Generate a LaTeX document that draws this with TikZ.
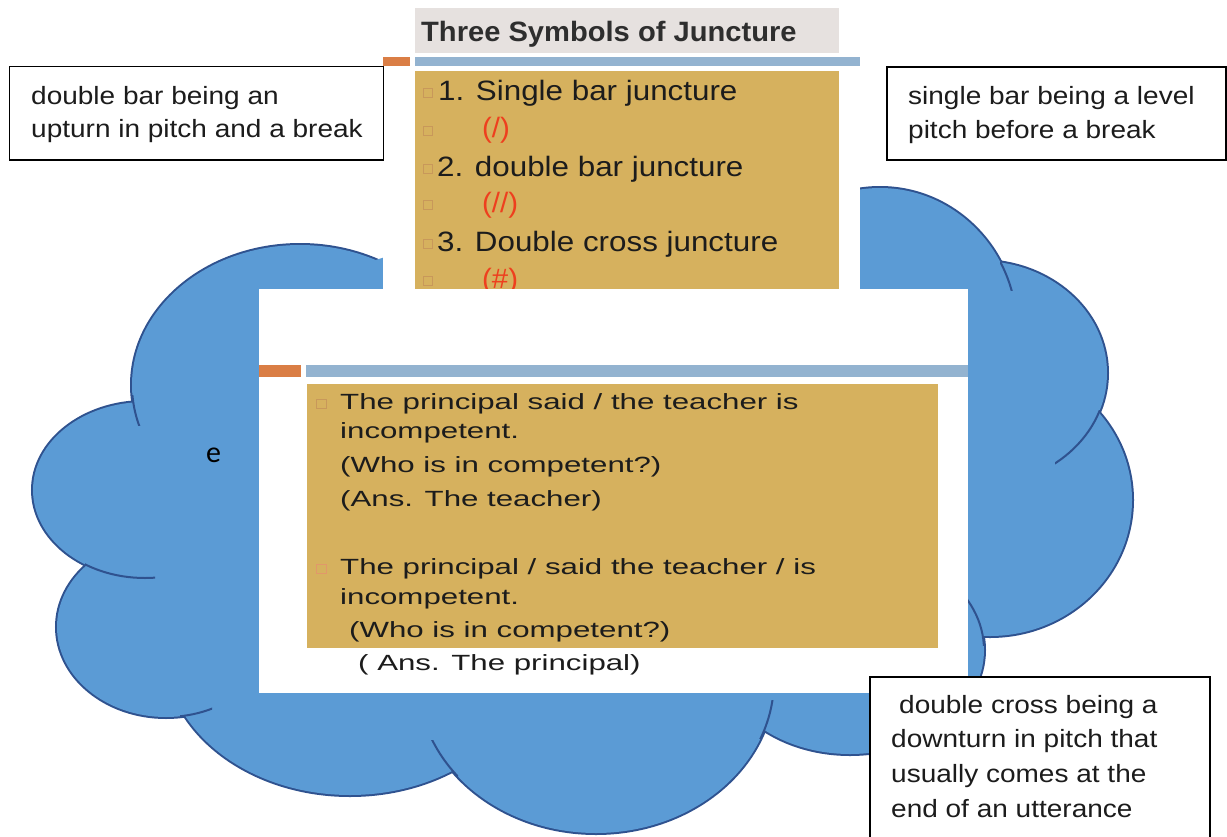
\documentclass[tikz,border=0pt]{standalone}
\usepackage{fontspec}
\usepackage{graphicx}
\setmainfont{Liberation Sans}
\newfontfamily\calfont{Carlito}
\definecolor{cloudfill}{HTML}{5B9BD5}
\definecolor{cloudline}{HTML}{2F528F}
\definecolor{titlegray}{HTML}{E6E1DF}
\definecolor{gold}{HTML}{D6B15E}
\definecolor{bluebar}{HTML}{93B3D0}
\definecolor{orangebar}{HTML}{DA7E45}
\definecolor{redsym}{HTML}{EE3F1E}
\definecolor{dark}{HTML}{1C1C1C}
\definecolor{bulletc}{HTML}{C8985A}
\newcommand{\sx}[2]{\scalebox{#1}[1]{#2}}
\newcommand{\fs}[1]{\fontsize{#1}{#1}\selectfont}
\begin{document}
\begin{tikzpicture}[x=1pt,y=-1pt,
  lobe/.style={fill=cloudfill,draw=cloudline,line width=4pt},
  lobefill/.style={fill=cloudfill},
  crease/.style={draw=cloudline,line width=2pt},
  tbox/.style={draw=black,line width=1.4pt,fill=white},
  txt/.style={anchor=base west,inner sep=0pt,text=dark},
  bul/.style={draw=bulletc,line width=0.7pt}]
\useasboundingbox (0,0) rectangle (1227,836);
\fill[white] (0,0) rectangle (1227,836);
% ---------- cloud ----------
\foreach \cx/\cy/\rx/\ry in {300/385/168/140,145/490/112/88,166/627/109/90,350/650/185/145,596/680/178/153,850/650/134/104,990/500/142/136,980/373/127/112,880/330/137/142}
  {\path[lobe] (\cx,\cy) ellipse [x radius=\rx pt,y radius=\ry pt];}
\foreach \cx/\cy/\rx/\ry in {300/385/168/140,145/490/112/88,166/627/109/90,350/650/185/145,596/680/178/153,850/650/134/104,990/500/142/136,980/373/127/112,880/330/137/142,580/480/430/250}
  {\path[lobefill] (\cx,\cy) ellipse [x radius=\rx pt,y radius=\ry pt];}
\foreach \a/\b/\c/\d/\cx/\cy/\rx/\ry in {128/395/146/425/300/385/168/140,85/555/155/585/145/490/112/88,180/700/212/722/166/627/109/90,430/740/458/778/596/680/178/153,755/700/780/738/596/680/178/153,960/570/995/645/850/650/134/104,1055/410/1100/465/980/373/127/112,1000/262/1015/290/880/330/137/142}
  {\begin{scope}\clip (\a,\b) rectangle (\c,\d);
   \path[crease] (\cx,\cy) ellipse [x radius=\rx pt,y radius=\ry pt];\end{scope}}
\node[anchor=base west,inner sep=0pt] (e) at (206,462) {\calfont\fs{30}e};
% ---------- upper slide ----------
\fill[white] (383,0) rectangle (860,289);
\fill[titlegray] (415,8) rectangle (839,53);
\node[txt,text=black!82] (title) at (421,41.7) {\fs{28}\bfseries\sx{1.04}{Three Symbols of Juncture}};
\fill[orangebar] (383,57) rectangle (410,66);
\fill[bluebar] (415,57) rectangle (860,66);
\fill[gold] (415,71) rectangle (839,289);
\foreach \yy in {88,126,164,200,239,276}
  {\path[bul] (423,\yy) rectangle (432,\yy+9);}
\node[txt] (i1) at (438,100) {\fs{28}\sx{1.12}{1. Single bar juncture}};
\node[txt,text=redsym] (s1) at (482,137) {\fs{28}\sx{1.05}{(/)}};
\node[txt] (i2) at (437,176) {\fs{28}\sx{1.12}{2. double bar juncture}};
\node[txt,text=redsym] (s2) at (482,212) {\fs{28}\sx{1.05}{(//)}};
\node[txt] (i3) at (437,251) {\fs{28}\sx{1.12}{3. Double cross juncture}};
\node[txt,text=redsym] (s3) at (482,288) {\fs{28}\sx{1.05}{(\#)}};
% ---------- lower slide ----------
\fill[white] (259,289) rectangle (968,693);
\fill[orangebar] (259,365) rectangle (301,377);
\fill[bluebar] (306,365) rectangle (968,377);
\fill[gold] (307,384) rectangle (938,648);
\path[bul] (316,399) rectangle (326,408);
\path[bul,draw=orangebar!80] (316,564) rectangle (326,573);
\node[txt] (l1) at (340,409) {\fs{22}\sx{1.42}{The principal said / the teacher is}};
\node[txt] (l2) at (340,438) {\fs{22}\sx{1.42}{incompetent.}};
\node[txt] (l3) at (340,472) {\fs{22}\sx{1.42}{(Who is in competent?)}};
\node[txt] (l4) at (340,506) {\fs{22}\sx{1.42}{(Ans. The teacher)}};
\node[txt] (l5) at (340,574) {\fs{22}\sx{1.42}{The principal / said the teacher / is}};
\node[txt] (l6) at (340,604) {\fs{22}\sx{1.42}{incompetent.}};
\node[txt] (l7) at (349,637) {\fs{22}\sx{1.42}{(Who is in competent?)}};
\node[txt] (l8) at (358,670) {\fs{22}\sx{1.42}{( Ans. The principal)}};
% ---------- text boxes ----------
\path[tbox] (9.5,66.5) rectangle (383.5,160);
\node[txt] (lb1) at (31,104) {\fs{25}\sx{1.12}{double bar being an}};
\node[txt] (lb2) at (31,137) {\fs{25}\sx{1.12}{upturn in pitch and a break}};
\path[tbox] (887,67) rectangle (1226,160);
\node[txt] (rb1) at (908,104) {\fs{25}\sx{1.12}{single bar being a level}};
\node[txt] (rb2) at (908,138) {\fs{25}\sx{1.12}{pitch before a break}};
\path[tbox] (870,677) rectangle (1210,850);
\node[txt] (bb1) at (899,713) {\fs{25}\sx{1.12}{double cross being a}};
\node[txt] (bb2) at (891,747) {\fs{25}\sx{1.12}{downturn in pitch that}};
\node[txt] (bb3) at (891,782) {\fs{25}\sx{1.12}{usually comes at the}};
\node[txt] (bb4) at (891,817) {\fs{25}\sx{1.12}{end of an utterance}};
\end{tikzpicture}
\end{document}
